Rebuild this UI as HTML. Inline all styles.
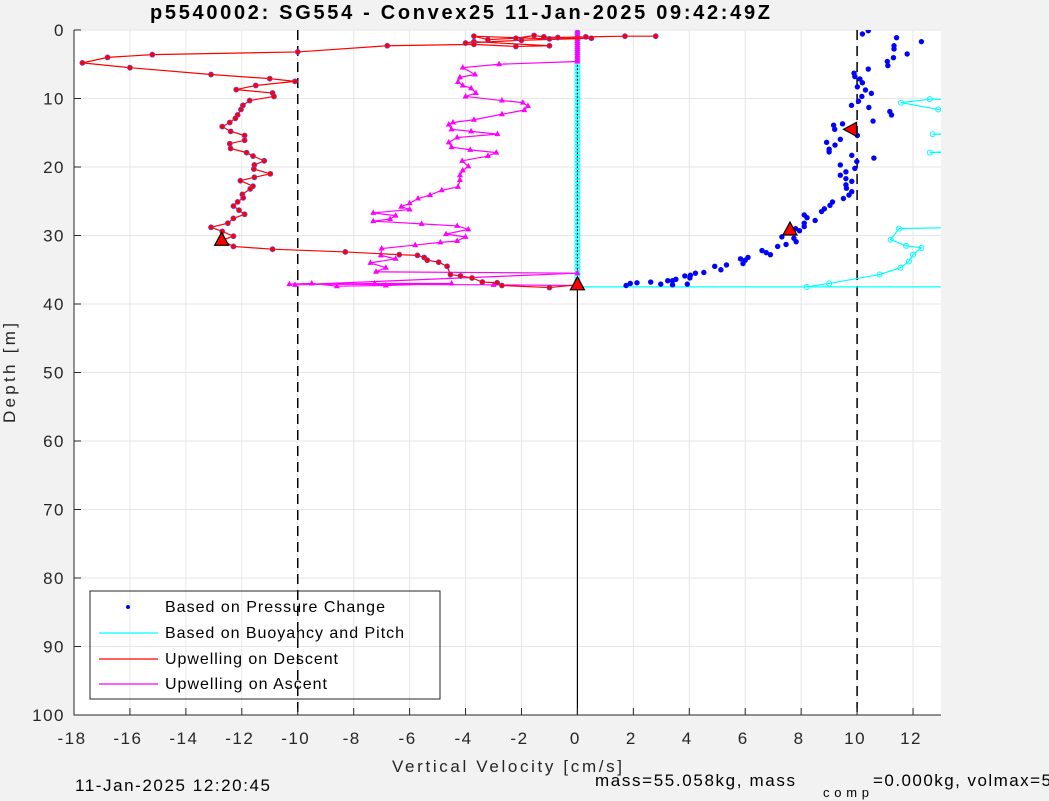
<!DOCTYPE html>
<html><head><meta charset="utf-8">
<style>
html,body{margin:0;padding:0;background:#f2f2f2;}
svg{display:block;font-family:"Liberation Sans",sans-serif;}
</style></head>
<body>
<svg id="chart" width="1049" height="801" xmlns="http://www.w3.org/2000/svg">
<rect x="0" y="0" width="1049" height="801" fill="#f2f2f2"/>
<rect x="74" y="30" width="867" height="685" fill="#ffffff"/>
<g id="grid"></g>
<defs><clipPath id="clip"><rect x="74" y="30" width="867" height="685"/></clipPath></defs>
<g id="marks" clip-path="url(#clip)"></g>
<g id="axes"></g>
<text x="150" y="19" font-size="20" font-weight="bold" textLength="620" lengthAdjust="spacing" fill="#000">p5540002: SG554 - Convex25 11-Jan-2025 09:42:49Z</text>
<text x="392" y="772" font-size="17" textLength="230" lengthAdjust="spacing" fill="#262626">Vertical Velocity [cm/s]</text>
<text transform="translate(15,423) rotate(-90)" font-size="17" textLength="100" lengthAdjust="spacing" fill="#262626">Depth [m]</text>
<g>
<rect x="90" y="591" width="350" height="108" fill="none" stroke="#262626" stroke-width="1"/>
<circle cx="128" cy="607" r="2" fill="#0000ff"/>
<text x="165" y="612" font-size="16" textLength="220" lengthAdjust="spacing" fill="#000">Based on Pressure Change</text>
<line x1="99" y1="633" x2="158" y2="633" stroke="#00ffff" stroke-width="1.2"/>
<text x="165" y="638" font-size="16" textLength="239" lengthAdjust="spacing" fill="#000">Based on Buoyancy and Pitch</text>
<line x1="99" y1="659" x2="158" y2="659" stroke="#ff0000" stroke-width="1.2"/>
<text x="165" y="664" font-size="16" textLength="173" lengthAdjust="spacing" fill="#000">Upwelling on Descent</text>
<line x1="99" y1="684" x2="158" y2="684" stroke="#ff00ff" stroke-width="1.2"/>
<text x="165" y="689" font-size="16" textLength="162" lengthAdjust="spacing" fill="#000">Upwelling on Ascent</text>
</g>
<text x="75" y="791" font-size="17" textLength="195" lengthAdjust="spacing" fill="#000">11-Jan-2025 12:20:45</text>
<text x="595" y="786" font-size="17" textLength="200" lengthAdjust="spacing" fill="#000">mass=55.058kg, mass</text>
<text x="823" y="797" font-size="13" textLength="46" lengthAdjust="spacing" fill="#000">comp</text>
<text x="873" y="786" font-size="17" textLength="178" lengthAdjust="spacing" fill="#000">=0.000kg, volmax=5</text>
</svg>
<script>
const xTicks=[-18,-16,-14,-12,-10,-8,-6,-4,-2,0,2,4,6,8,10,12];
const yTicks=[0,10,20,30,40,50,60,70,80,90,100];
const descent=[[2.8,0.9],[1.7,0.9],[0.3,1.0],[-0.7,1.1],[-1.2,1.0],[-1.55,0.8],[-2.2,1.2],[-3.2,1.4],[-3.7,0.9],[-1.0,1.3],[0.5,1.2],[-2.0,1.5],[-4.0,1.9],[-3.7,1.7],[-1.0,2.3],[-2.2,2.4],[-3.7,2.1],[-6.8,2.3],[-10,3.2],[-15.2,3.6],[-16.8,4.0],[-17.7,4.8],[-16.0,5.5],[-13.1,6.5],[-11.0,7.1],[-10.1,7.5],[-11.5,8.1],[-12.2,8.7],[-10.9,9.2],[-10.85,9.7],[-11.72,10.3],[-11.96,11],[-12.03,11.6],[-12.15,12.4],[-12.23,12.9],[-12.43,13.5],[-12.7,14.1],[-12.4,14.8],[-11.9,15.4],[-11.9,16.1],[-12.43,16.6],[-12.4,17.3],[-11.83,17.9],[-11.6,18.4],[-11.2,19.1],[-11.55,19.7],[-11.57,20.3],[-10.98,21],[-11.55,21.5],[-12.05,22],[-11.6,22.8],[-11.7,23.2],[-11.98,24],[-11.95,24.5],[-12.15,25.1],[-12.3,25.7],[-12.1,26.3],[-11.9,26.9],[-12.3,27.5],[-12.5,28.2],[-13.1,28.8],[-12.7,29.4],[-12.3,30.1],[-12.72,30.7],[-12.3,31.6],[-10.9,32],[-8.3,32.4],[-6.37,32.8],[-5.72,32.9],[-5.48,33.2],[-5.37,33.6],[-4.96,33.9],[-4.66,34.5],[-4.54,35.7],[-4.18,35.9],[-3.77,36.2],[-3.4,36.8],[-2.87,36.9],[-2.7,37.3],[-1.0,37.6],[0,37.2]];
const ascent=[[0,37.3],[-3,37.2],[-10.3,37.1],[-9.5,37.0],[-8.6,37.4],[-6.85,37.3],[-4.5,37.0],[-7.25,37.0],[-10.1,37.2],[0,35.5],[-7.2,35.3],[-6.85,34.7],[-7.4,34.0],[-6.5,33.4],[-7.03,32.9],[-7.0,31.9],[-5.8,31.4],[-4.9,31.0],[-4.3,30.8],[-4.0,30.2],[-4.7,29.8],[-3.9,29.1],[-4.3,28.6],[-5.57,28.3],[-7.3,27.9],[-6.7,27.6],[-6.5,27.1],[-7.3,26.7],[-6.0,26.2],[-6.3,25.8],[-6.0,25.3],[-5.7,24.6],[-5.27,24.1],[-4.85,23.4],[-4.27,22.9],[-4.2,21.9],[-4.2,21.2],[-4.1,20.5],[-3.9,19.9],[-4.12,19.1],[-3.2,18.4],[-2.9,17.9],[-3.83,17.5],[-4.5,17.1],[-4.6,16.4],[-4.3,15.7],[-2.86,15.2],[-3.8,14.8],[-4.5,14.5],[-4.6,13.8],[-4.45,13.5],[-3.7,13.1],[-2.7,12.3],[-1.9,11.7],[-1.77,11.1],[-1.95,10.6],[-2.7,10.3],[-4.0,9.7],[-3.63,9.2],[-3.8,8.5],[-4.1,8.1],[-4.27,7.6],[-4.2,6.9],[-3.66,6.5],[-4.1,5.5],[-2.8,5.0],[0,4.6],[0,4.3],[0,4.0],[0,3.7],[0,3.4],[0,3.1],[0,2.8],[0,2.5],[0,2.2],[0,1.9],[0,1.6],[0,1.3],[0,1.0],[0,0.7],[0,0.4],[0,0.1]];
const pressure=[[10.19,0.58],[10.4,0.1],[11.41,1.12],[12.3,1.7],[11.32,2.3],[11.32,2.77],[11.79,3.5],[11.3,4.04],[11.08,4.6],[11.1,5.2],[10.4,5.7],[9.89,6.3],[9.92,6.8],[10.1,7.15],[10.19,7.7],[10.01,8.3],[10.3,8.76],[10.51,9.25],[10.17,9.7],[10.05,10.4],[9.8,11.0],[10.42,11.3],[11.17,11.9],[11.23,12.4],[10.57,13.3],[9.16,13.9],[9.2,14.5],[9.48,13.7],[10.01,15.4],[9.4,15.96],[8.91,16.4],[9.21,16.8],[9.0,17.4],[9.0,17.8],[9.81,18.3],[10.6,18.7],[9.99,19.2],[9.92,20.2],[9.4,19.7],[9.6,20.7],[9.4,21.2],[9.6,21.7],[9.81,22.1],[9.6,22.6],[9.62,23.1],[9.81,23.6],[9.71,24.1],[9.51,24.6],[9.12,25.1],[9.03,25.6],[8.83,26.1],[8.73,26.5],[8.5,27.8],[8.21,27.4],[8.11,27.0],[8.11,28.2],[8.11,28.7],[7.94,29.3],[7.8,29.0],[7.31,30.2],[7.46,31.3],[7.74,30.4],[7.82,30.9],[7.16,31.6],[6.9,32.8],[6.75,32.5],[6.6,32.2],[6.1,33.2],[6.0,33.6],[5.92,34.1],[5.83,33.4],[5.33,34.3],[5.13,35.0],[4.91,34.5],[4.52,35.4],[4.22,35.5],[4.04,35.8],[4.02,36.2],[3.84,35.9],[3.52,36.4],[3.4,36.6],[3.23,36.6],[3.4,37.2],[3.93,37.1],[2.98,37.1],[2.62,36.8],[2.13,36.9],[1.89,37.0],[1.74,37.3]];
const buoyDepths=[0,0.5,1,1.5,2,2.5,3,3.5,4,4.5,5,5.5,6,6.5,7,7.5,8,8.5,9,9.5,10,10.5,11,11.5,12,12.5,13,13.5,14,14.5,15,15.5,16,16.5,17,17.5,18,18.5,19,19.5,20,20.5,21,21.5,22,22.5,23,23.5,24,24.5,25,25.5,26,26.5,27,27.5,28,28.5,29,29.5,30,30.5,31,31.5,32,32.5,33,33.5,34,34.5,35,35.5,36,36.5,37,37.5];
const buoyRight=[[14,10.2],[12.6,10.1],[11.57,10.6],[12.9,11.6],[14,11.4]];
const buoyRight2=[[14,15.2],[12.7,15.2],[14,15.3]];
const buoyRight3=[[14,17.6],[12.6,17.9],[14,17.8]];
const buoyDeep=[[8.2,37.5],[9.0,37.0],[10.8,35.7],[11.55,34.7],[11.85,33.8],[12.0,32.8],[12.3,31.8],[11.75,31.5],[11.2,30.6],[11.5,29],[14,28.8]];
const triangles=[[-12.72,30.7,0],[0,37.2,0],[7.6,29.2,0],[9.8,14.5,-90]];

const X0=74,X1=941,Y0=30,Y1=715,XMIN=-18,XMAX=13,YMIN=0,YMAX=100;
const sx=v=>X0+(v-XMIN)/(XMAX-XMIN)*(X1-X0);
const sy=d=>Y0+(d-YMIN)/(YMAX-YMIN)*(Y1-Y0);
const NS='http://www.w3.org/2000/svg';
function mk(tag,attrs,parent){const e=document.createElementNS(NS,tag);for(const k in attrs)e.setAttribute(k,attrs[k]);parent.appendChild(e);return e;}
const grid=document.getElementById('grid'),marks=document.getElementById('marks'),axes=document.getElementById('axes');
xTicks.forEach(t=>{const g=mk('line',{x1:sx(t),x2:sx(t),y1:Y0,y2:Y1,stroke:'#e6e6e6','stroke-width':1},grid);


const tk=mk('line',{x1:sx(t),x2:sx(t),y1:Y1,y2:Y1-7,stroke:'#262626','stroke-width':1},axes);


const lb=mk('text',{x:sx(t)-2,y:Y1+29,'font-size':17,'letter-spacing':1.5,'text-anchor':'middle',fill:'#262626'},axes);lb.textContent=t;

});
yTicks.forEach(t=>{const g=mk('line',{x1:X0,x2:X1,y1:sy(t),y2:sy(t),stroke:'#e6e6e6','stroke-width':1},grid);


const tk=mk('line',{x1:X0,x2:X0+7,y1:sy(t),y2:sy(t),stroke:'#262626','stroke-width':1},axes);


const lb=mk('text',{x:X0-9,y:sy(t)+6,'font-size':17,'letter-spacing':1.5,'text-anchor':'end',fill:'#262626'},axes);lb.textContent=t;

});
const ax=mk('path',{d:`M${X0},${Y0}V${Y1}H${X1}`,fill:'none',stroke:'#262626','stroke-width':1},axes);


[-10,10].forEach(v=>{const l=mk('line',{x1:sx(v),x2:sx(v),y1:Y0,y2:Y1,stroke:'#000','stroke-width':1.5,'stroke-dasharray':'10,6'},marks);

});
const zl=mk('line',{x1:sx(0),x2:sx(0),y1:Y0,y2:Y1,stroke:'#000','stroke-width':1.2},marks);


function poly(arr,color,name){const p=mk('polyline',{points:arr.map(a=>sx(a[0])+','+sy(a[1])).join(' '),fill:'none',stroke:color,'stroke-width':1.2},marks);

}
const buoyVert=buoyDepths.map(d=>[0,d]);
poly(buoyVert.concat([[13.5,37.5]]),'#00ffff','buoyancy-line');
poly(buoyRight,'#00ffff','buoyancy-line-upper');
poly(buoyRight2,'#00ffff','buoyancy-line-upper-2');
poly(buoyRight3,'#00ffff','buoyancy-line-upper-3');
poly(buoyDeep,'#00ffff','buoyancy-line-deep');
[buoyVert,buoyRight,buoyRight2,buoyRight3,buoyDeep].forEach(a=>a.forEach(p=>{const c=mk('circle',{cx:sx(p[0]),cy:sy(p[1]),r:2.5,fill:'none',stroke:'#00ffff','stroke-width':1},marks);

}));
const dl=mk('line',{x1:sx(0),x2:sx(0),y1:sy(4.6),y2:sy(35.5),stroke:'#000','stroke-width':1,'stroke-dasharray':'1.5,2'},marks);


poly(ascent,'#ff00ff','ascent-line');
ascent.forEach(p=>{const x=sx(p[0]),y=sy(p[1]);const t=mk('polygon',{points:`${x},${y-3.5} ${x-3},${y+2} ${x+3},${y+2}`,fill:'#ff00ff'},marks);

});
poly(descent,'#ff0000','descent-line');
descent.forEach(p=>{const c=mk('circle',{cx:sx(p[0]),cy:sy(p[1]),r:2.6,fill:'#ff0000',stroke:'#5050ff','stroke-width':0.6},marks);

});
pressure.forEach(p=>{const c=mk('circle',{cx:sx(p[0]),cy:sy(p[1]),r:2.7,fill:'#0000ff'},marks);

});
triangles.forEach(p=>{const x=sx(p[0]),y=sy(p[1]);const t=mk('polygon',{points:`${x},${y-8} ${x-7},${y+5} ${x+7},${y+5}`,fill:'#ff0000',stroke:'#000','stroke-width':1.2,transform:`rotate(${p[2]},${x},${y})`},marks);

});
</script>
</body></html>
